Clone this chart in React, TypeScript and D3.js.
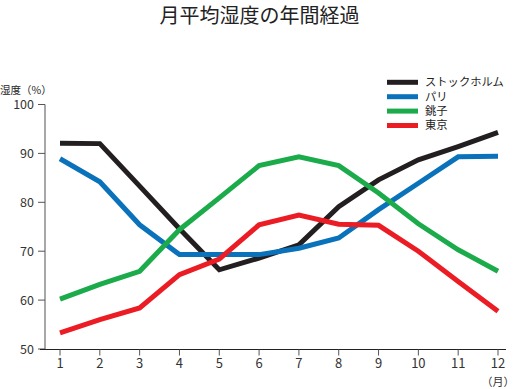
import * as d3 from 'd3';

const months = [1, 2, 3, 4, 5, 6, 7, 8, 9, 10, 11, 12];
const stockholm = [92.1, 92.0, 83.3, 74.6, 66.2, 68.6, 71.3, 79.1, 84.6, 88.7, 91.4, 94.3];
const paris = [88.9, 84.2, 75.4, 69.3, 69.3, 69.3, 70.6, 72.7, 78.5, 83.9, 89.3, 89.4];
const choshi = [60.2, 63.2, 65.9, 74.4, 80.9, 87.5, 89.3, 87.5, 81.9, 75.6, 70.3, 65.9];
const tokyo = [53.3, 56.0, 58.4, 65.2, 68.4, 75.4, 77.4, 75.5, 75.3, 70.0, 63.8, 57.7];
const yTicks = [50, 60, 70, 80, 90, 100];

const series = [
  { name: 'ストックホルム', values: stockholm, color: '#231f20' },
  { name: 'パリ', values: paris, color: '#0a72ba' },
  { name: '銚子', values: choshi, color: '#1bab4b' },
  { name: '東京', values: tokyo, color: '#ec1c24' },
];

const W = 517;
const H = 389;
const font = '"Noto Sans CJK JP", "Noto Sans", sans-serif';

export default function App() {
  const x = d3.scaleLinear().domain([1, 12]).range([60, 498]);
  const y = d3.scaleLinear().domain([50, 100]).range([349, 104.5]);
  const line = d3.line<number>()
    .x((_, i) => x(months[i]))
    .y(d => y(d));

  return (
    <svg width={W} height={H} style={{ position: 'absolute', left: 0, top: 0, background: '#fff' }}
      fontFamily={font}>
      {/* title */}
      <text x={259.5} y={23} textAnchor="middle" fontSize={20} fill="#222">月平均湿度の年間経過</text>

      {/* y axis */}
      <text x={0} y={93.5} fontSize={10.5} fill="#222">湿度（%）</text>
      <line x1={45} x2={45} y1={y(100)} y2={y(50)} stroke="#8a8a8a" strokeWidth={1.5} />
      {yTicks.map(t => (
        <g key={t}>
          <line x1={38} x2={45} y1={y(t)} y2={y(t)} stroke="#555" strokeWidth={1} />
          <text x={34} y={y(t)} dy="0.36em" textAnchor="end" fontSize={12.5} fill="#333">{t}</text>
        </g>
      ))}

      {/* x axis */}
      <line x1={40} x2={506} y1={349.5} y2={349.5} stroke="#222" strokeWidth={1.2} />
      {months.map(m => (
        <g key={m}>
          <line x1={x(m)} x2={x(m)} y1={349.5} y2={355.5} stroke="#555" strokeWidth={1} />
          <text x={x(m)} y={368} textAnchor="middle" fontSize={13} fill="#333">{m}</text>
        </g>
      ))}
      <text x={498} y={386} textAnchor="middle" fontSize={11} fill="#333">（月）</text>

      {/* lines */}
      {series.map(s => (
        <path key={s.name} d={line(s.values) || ''} fill="none" stroke={s.color}
          strokeWidth={5} strokeLinejoin="miter" strokeLinecap="butt" />
      ))}

      {/* legend */}
      {series.map((s, i) => (
        <g key={s.name} transform={`translate(387,${82.3 + i * 14.4})`}>
          <line x1={0} x2={31} y1={0} y2={0} stroke={s.color} strokeWidth={5} />
          <text x={38} y={0} dy="0.35em" fontSize={11.3} fill="#222">{s.name}</text>
        </g>
      ))}
    </svg>
  );
}
